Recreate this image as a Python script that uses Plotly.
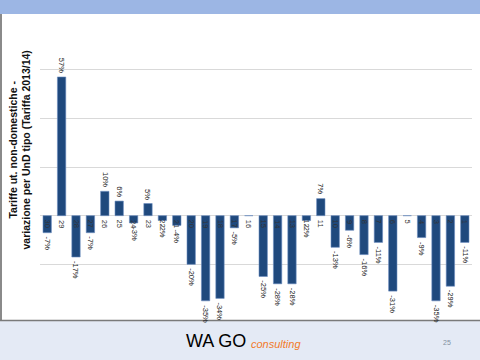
import plotly.graph_objects as go

categories = [str(i) for i in range(30, 0, -1)]
values = [-7, 57, -17, -7, 10, 6, -3, 5, -2, -4, -20, -35, -34, -5, 0,
          -25, -28, -28, -2, 7, -13, -6, -16, -11, -31, 0, -9, -35, -29, -11]
y_title = "Tariffe ut. non-domestiche -<br>variazione per UnD tipo (Tariffa 2013/14)"
footer_brand = "WA GO"
footer_sub = "consulting"
page_no = "25"

W, H = 480, 360
def px(x): return x / W
def py(y): return 1 - y / H

idx = list(range(len(categories)))

fig = go.Figure()
fig.add_trace(go.Bar(
    x=idx, y=values,
    marker=dict(color="#1F497D", line=dict(color="#6A8CC0", width=0.6)),
    hoverinfo="skip",
))

annotations = []
for i, c in zip(idx, categories):
    annotations.append(dict(
        x=i, y=0, xref="x", yref="y", text=c, showarrow=False,
        textangle=90, yanchor="top", xanchor="center", yshift=-2,
        font=dict(family="Liberation Sans, Arial", size=7.5, color="#333333"),
    ))
for i, v in zip(idx, values):
    if v == 0:
        continue
    annotations.append(dict(
        x=i, y=v, xref="x", yref="y", text=f"{v}%", showarrow=False,
        textangle=90, xanchor="center",
        yanchor="bottom" if v > 0 else "top",
        yshift=2 if v > 0 else -2,
        font=dict(family="Liberation Sans, Arial", size=7.5, color="#222222"),
    ))
annotations.append(dict(
    x=px(19.5), y=py(150), xref="paper", yref="paper", text="<b>" + y_title + "</b>",
    showarrow=False, textangle=-90, xanchor="center", yanchor="middle",
    font=dict(family="Liberation Sans, Arial", size=10.5, color="#111111"),
))
annotations.append(dict(
    x=px(184), y=py(341), xref="paper", yref="paper", text=footer_brand,
    showarrow=False, xanchor="left", yanchor="middle",
    font=dict(family="Liberation Sans, Arial", size=18, color="#000000"),
))
annotations.append(dict(
    x=px(249), y=py(344), xref="paper", yref="paper", text="<i>" + footer_sub + "</i>",
    showarrow=False, xanchor="left", yanchor="middle",
    font=dict(family="Liberation Sans, Arial", size=11, color="#F27A2A"),
))
annotations.append(dict(
    x=px(447), y=py(342), xref="paper", yref="paper", text=page_no,
    showarrow=False, xanchor="center", yanchor="middle",
    font=dict(family="Liberation Sans, Arial", size=7, color="#8090A0"),
))

shapes = [
    dict(type="rect", xref="paper", yref="paper", x0=0, x1=1, y0=py(14), y1=1,
         fillcolor="#9CB6E4", line=dict(width=0), layer="below"),
    dict(type="rect", xref="paper", yref="paper", x0=0, x1=1, y0=0, y1=py(320),
         fillcolor="#E4EAF5", line=dict(width=0), layer="below"),
    dict(type="line", xref="paper", yref="paper", x0=px(1), x1=px(1), y0=py(320), y1=py(14),
         line=dict(color="#8A8A8A", width=2)),
    dict(type="line", xref="paper", yref="paper", x0=0, x1=1, y0=py(320.5), y1=py(320.5),
         line=dict(color="#7A7A7A", width=1.5)),
]

fig.update_layout(
    width=W, height=H,
    margin=dict(l=0, r=0, t=0, b=0),
    paper_bgcolor="white", plot_bgcolor="white",
    showlegend=False,
    bargap=0.42,
    annotations=annotations,
    shapes=shapes,
    xaxis=dict(domain=[px(40), px(472)], range=[-0.5, len(categories) - 0.5],
               showticklabels=False, showgrid=False, showline=False, ticks="",
               zeroline=False),
    yaxis=dict(domain=[py(313), py(21)], range=[-40, 80], dtick=20,
               showticklabels=False, showgrid=True, gridcolor="#D9D9D9", gridwidth=1,
               zeroline=True, zerolinecolor="#D9D9D9", zerolinewidth=1, ticks=""),
)

fig.write_html(
    "out.html",
    config={"displayModeBar": False},
    post_script="document.body.style.margin='0';document.body.style.overflow='hidden';",
)
